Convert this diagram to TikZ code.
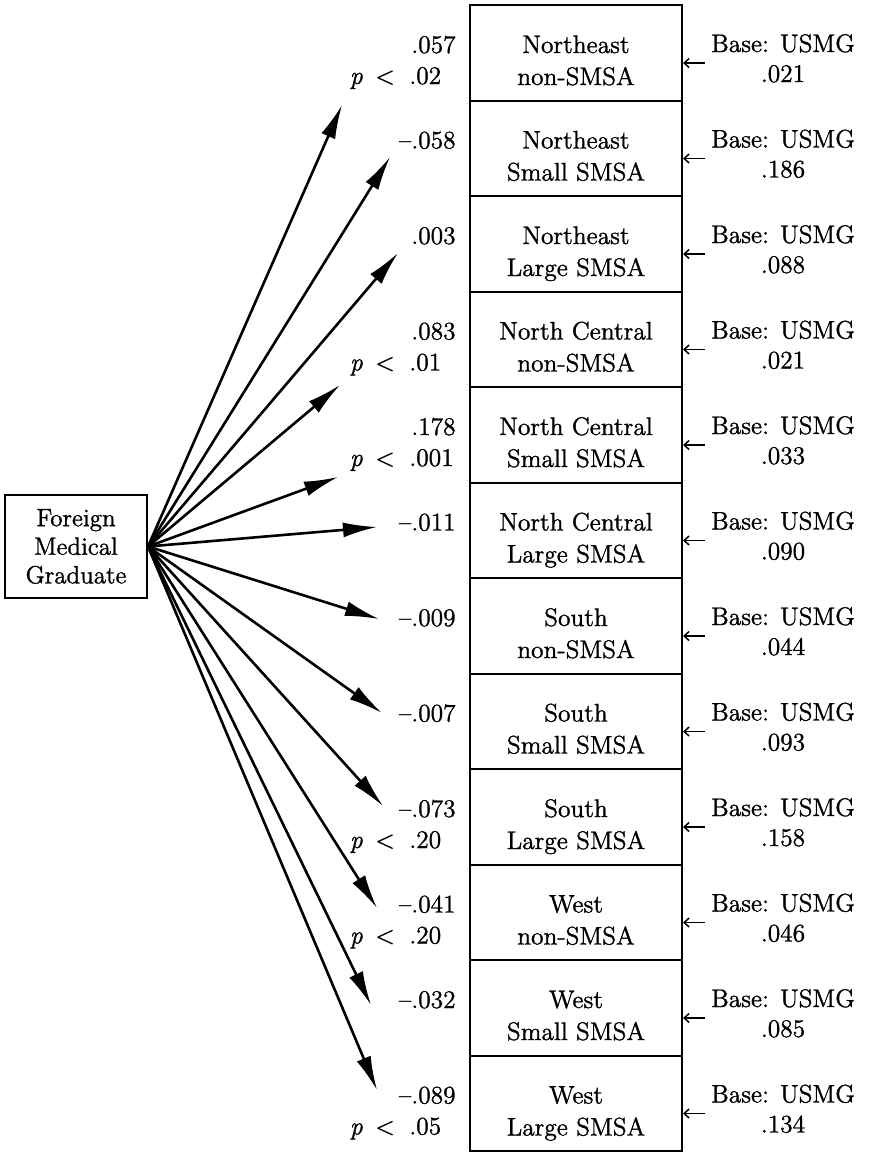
\documentclass[tikz,border=0pt]{standalone}
\usepackage{tikz}
\usetikzlibrary{arrows.meta}
\tikzset{>=latex}
\usepackage{xcolor}
\usepackage{fontspec}
\setmainfont{Latin Modern Roman}[FakeBold=1.2]
\newcommand{\regfont}{\fontsize{12.7}{16}\selectfont}
\tikzstyle{exposure}=[draw,line width=1pt,minimum width=71pt,minimum height=51.5pt,inner sep=0,align=center,font=\fontsize{12.5}{14.3}\selectfont]
\tikzstyle{region}=[draw,line width=1pt,minimum width=106pt,minimum height=47.75pt,inner sep=0]
\tikzstyle{rtext}=[anchor=base,inner sep=0,font=\regfont]
\tikzstyle{coef}=[anchor=base east,inner sep=0,font=\regfont]
\tikzstyle{sig}=[anchor=base west,inner sep=0,font=\regfont]
\tikzstyle{connect}=[line width=1.3pt,-{Latex[length=17pt,width=7.5pt]}]
\tikzstyle{connect small}=[line width=0.75pt,-{Straight Barb[length=2.5pt,width=4.5pt]}]

\begin{document}
\begin{tikzpicture}[x=0.5pt,y=-0.5pt]
    \useasboundingbox (0,0) rectangle (871,1153);

    % EXPOSURE
    \node[exposure] (fmg) at (76,546.5) {Foreign\\Medical\\Graduate};

    % DRAW REGION BOXES
    \foreach \k/\ra/\rb/\cf/\bs [evaluate={\rowtop=5+95.5*(\k-1);}] in
        {1/Northeast/non-SMSA/.057/.021,
         2/Northeast/Small SMSA/--.058/.186,
         3/Northeast/Large SMSA/.003/.088,
         4/North Central/non-SMSA/.083/.021,
         5/North Central/Small SMSA/.178/.033,
         6/North Central/Large SMSA/--.011/.090,
         7/South/non-SMSA/--.009/.044,
         8/South/Small SMSA/--.007/.093,
         9/South/Large SMSA/--.073/.158,
         10/West/non-SMSA/--.041/.046,
         11/West/Small SMSA/--.032/.085,
         12/West/Large SMSA/--.089/.134}{
        \node[region] (R-\k) at (576,\rowtop+47.75) {};
        \node[rtext] (R-\k-a) at (576,\rowtop+48) {\ra};
        \node[rtext] (R-\k-b) at (576,\rowtop+80) {\rb};
        \node[coef] (C-\k) at (456,\rowtop+48) {\cf};
        \node[rtext] (B-\k-a) at (783,\rowtop+47) {Base: USMG};
        \node[rtext] (B-\k-b) at (783,\rowtop+77) {\bs};
        \coordinate (S-\k) at (705,\rowtop+58);
        \draw[connect small] (S-\k) -- (R-\k.east |- S-\k);
    }

    % SIGNIFICANCE
    \foreach \k/\pv [evaluate={\rowtop=5+95.5*(\k-1);}] in
        {1/.02, 4/.01, 5/.001, 9/.20, 10/.20, 12/.05}{
        \node[sig] (P-\k) at (409,\rowtop+79) {\llap{\textit{p}\enspace<\enspace\hspace{1pt}}\pv};
    }

    % DRAW EDGES
    \foreach \k/\tx/\ty in {1/342/105, 2/390/157, 3/398/253, 4/340/385,
        5/338/477, 6/377/527, 7/379/619, 8/382/713, 9/383/806,
        10/377/908, 11/371/1005, 12/377/1090}{
        \coordinate (T-\k) at (\tx,\ty);
        \draw[connect] (fmg.east) -- (T-\k);
    }
\end{tikzpicture}
\end{document}
